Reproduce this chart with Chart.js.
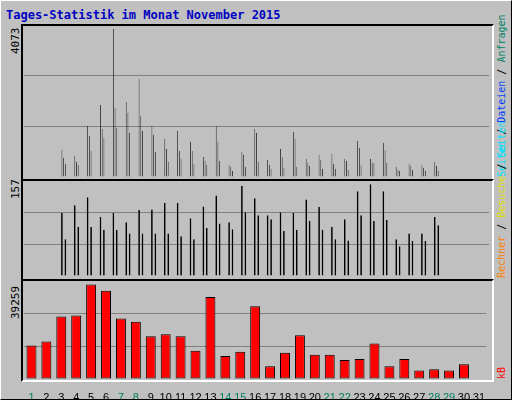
<!DOCTYPE html>
<html><head><meta charset="utf-8">
<script src="https://cdn.jsdelivr.net/npm/chart.js@4/dist/chart.umd.min.js"></script>
<style>
body{margin:0;width:512px;height:400px;overflow:hidden;background:#fff;}
#wrap{position:absolute;left:0;top:0;width:510px;height:398px;background:#c0c0c0;border-top:1px solid #fff;border-left:1px solid #fff;border-right:1px solid #000;border-bottom:1px solid #000;}
.t{position:absolute;font-family:"DejaVu Sans Mono",monospace;white-space:nowrap;}
.panel{position:absolute;left:20px;width:469px;border-top:2px solid #000;border-left:2px solid #000;border-right:2px solid #fff;border-bottom:2px solid #fff;box-sizing:content-box;}
canvas{position:absolute;}
.rot{position:absolute;transform-origin:0 0;transform:rotate(-90deg);font-family:"DejaVu Sans Mono",monospace;font-size:10px;white-space:nowrap;}
</style></head><body>
<div id="wrap">
<div class="t" style="left:5px;top:7px;font-size:12px;font-weight:bold;color:#0000c0">Tages-Statistik im Monat November 2015</div>
<div class="panel" style="top:23px;height:153px"></div>
<div class="panel" style="top:178px;height:98px"></div>
<div class="panel" style="top:278px;height:99px"></div>
<div class="rot" style="left:8px;top:53px;color:#000;font-size:11px">4073</div>
<div class="rot" style="left:8px;top:198px;color:#000;font-size:11px">157</div>
<div class="rot" style="left:8px;top:318px;color:#000;font-size:11px">39259</div>
<div class="rot" style="left:495px;top:176px"><span style="color:#00e0ff">Seiten</span> / <span style="color:#0040ff">Dateien</span> / <span style="color:#008060">Anfragen</span></div>
<div class="rot" style="left:495px;top:277px"><span style="color:#ff8000">Rechner</span> / <span style="color:#e0e000">Besuche</span> / <span style="color:#00e0ff">Seiten</span></div>
<div class="rot" style="left:495px;top:378px;color:#ff0000">kB</div>
</div>
<canvas id="c1" style="left:24px;top:25px" width="465" height="152"></canvas>
<canvas id="c2" style="left:24px;top:181px" width="465" height="95"></canvas>
<canvas id="c3" style="left:24px;top:281px" width="465" height="118"></canvas>
<script>
const days = Array.from({length:31},(_,i)=>String(i+1));
const weekend = ['1','7','8','14','15','21','22','28','29'];
const hits  = [752,587,1412,1990,4073,2072,2705,1412,1055,1275,972,559,1412,339,697,1330,477,780,1247,504,614,642,504,1000,504,944,284,367,339,422,0];
const files = [532,422,1137,1330,1907,1770,1687,1165,780,724,724,449,972,284,614,1220,339,559,1055,394,477,367,449,807,394,752,202,312,257,312,0];
const pages = [367,339,724,1082,1357,1220,1275,697,422,504,367,339,449,174,284,422,229,257,284,312,229,229,202,339,394,394,174,202,174,174,0];
const visits= [108,121,135,101,108,92,113,114,125,125,99,119,138,92,154,133,104,109,108,131,118,84,97,145,157,145,63,73,73,101,0];
const sites = [63,84,84,79,79,73,73,73,73,68,63,82,90,80,109,104,97,77,79,94,79,63,61,104,94,96,51,60,60,87,0];
const kb    = [13900,15620,25940,26370,39259,36680,25080,23790,17770,18630,17770,11750,34100,9600,11320,30230,5300,10890,18200,10030,10030,7880,8310,14760,5300,8310,3580,4010,3580,6160,0];
const maxes = [4183,162.7,40692];

function yAxis(max){
  return {display:true,min:0,max:max,
    afterFit:s=>{s.width=0;},
    afterBuildTicks:s=>{s.ticks=[0,max/3,2*max/3,max].map(v=>({value:v}));},
    ticks:{display:false},border:{display:false},
    grid:{drawTicks:false,lineWidth:1,color:c=>(c.index===1||c.index===2)?'#808080':'rgba(0,0,0,0)'}};
}
// panels with overlapping bars: linear x axis, each dataset shifted by a fraction of a day
function mkOverlap(id,sets,max,bp){
  return new Chart(document.getElementById(id),{
    type:'bar',
    data:{datasets:sets.map(s=>({data:s.values.map((v,i)=>({x:i+s.shift,y:v})),backgroundColor:s.color,
      borderColor:'#000',borderWidth:1,borderSkipped:false,grouped:false,categoryPercentage:1,barPercentage:bp}))},
    options:{responsive:false,animation:false,devicePixelRatio:1,layout:{padding:0},
      plugins:{legend:{display:false},tooltip:{enabled:false}},
      scales:{x:{type:'linear',display:false,min:-0.5,max:30.5},y:yAxis(max)}}
  });
}
mkOverlap('c1',[{values:hits,color:'#008060',shift:-0.1333},{values:files,color:'#0040ff',shift:0},{values:pages,color:'#00e0ff',shift:0.1333}],maxes[0],0.47);
mkOverlap('c2',[{values:visits,color:'#ffff00',shift:-0.1333},{values:sites,color:'#ff8000',shift:0.1333}],maxes[1],0.5);
new Chart(document.getElementById('c3'),{
  type:'bar',
  data:{labels:days,datasets:[{data:kb,backgroundColor:'#ff0000',borderColor:'#000',borderWidth:1,borderSkipped:false,categoryPercentage:1,barPercentage:0.667}]},
  options:{responsive:false,animation:false,devicePixelRatio:1,layout:{padding:0},
    plugins:{legend:{display:false},tooltip:{enabled:false}},
    scales:{
      x:{grid:{display:false},border:{display:false},afterFit:s=>{s.height=20;},
        ticks:{padding:4,autoSkip:false,maxRotation:0,font:{family:'Liberation Sans',size:11},
          color:c=>weekend.includes(days[c.index])?'#008060':'#000'}},
      y:yAxis(maxes[2])}}
});
</script>
</body></html>
